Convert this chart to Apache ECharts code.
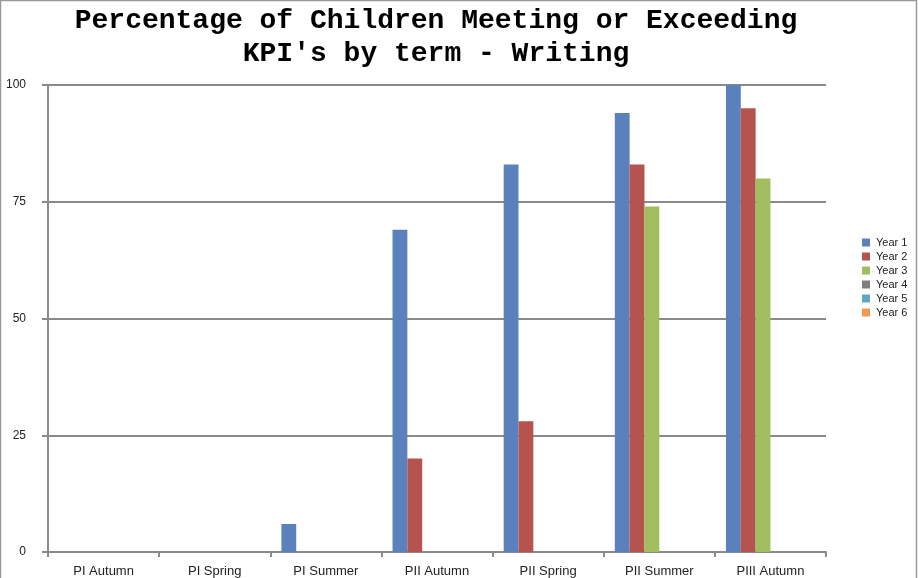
<!DOCTYPE html>
<html>
<head>
<meta charset="utf-8">
<script src="https://cdn.jsdelivr.net/npm/echarts@6/dist/echarts.min.js"></script>
<style>
html,body{margin:0;padding:0;background:#fff;}
#c{width:918px;height:578px;}
</style>
</head>
<body>
<div id="c"></div>
<script>
const categories = ['PI Autumn','PI Spring','PI Summer','PII Autumn','PII Spring','PII Summer','PIII Autumn'];
const seriesNames = ['Year 1','Year 2','Year 3','Year 4','Year 5','Year 6'];
const year1 = [0, 0, 6, 69, 83, 94, 100];
const year2 = [0, 0, 0, 20, 28, 83, 95];
const year3 = [0, 0, 0, 0, 0, 74, 80];
const year4 = [0, 0, 0, 0, 0, 0, 0];
const year5 = [0, 0, 0, 0, 0, 0, 0];
const year6 = [0, 0, 0, 0, 0, 0, 0];
const yTicks = [0, 25, 50, 75, 100];
const colors = ['#5A81BC', '#B5534F', '#A0BE5F', '#7F7F7F', '#5DA8C2', '#F09A51'];

const allData = [year1, year2, year3, year4, year5, year6];
const chart = echarts.init(document.getElementById('c'));
chart.setOption({
  animation: false,
  color: colors,
  title: {
    text: 'Percentage of Children Meeting or Exceeding\nKPI\'s by term - Writing',
    left: 431,
    top: -1,
    textAlign: 'center',
    textStyle: {
      fontFamily: '"Liberation Mono", "Courier New", monospace',
      fontWeight: 'bold',
      fontSize: 28,
      lineHeight: 33,
      color: '#000'
    }
  },
  graphic: [{
    type: 'rect',
    shape: {x: 0.5, y: 0.5, width: 916, height: 590},
    style: {fill: 'none', stroke: '#999', lineWidth: 1.5},
    silent: true
  }],
  legend: {
    orient: 'vertical',
    left: 857,
    top: 232,
    itemWidth: 8,
    itemHeight: 8,
    itemGap: 3,
    icon: 'rect',
    textStyle: {fontFamily: '"Liberation Sans", Arial, sans-serif', fontSize: 11, color: '#222', padding: [0,0,0,1]},
    data: seriesNames
  },
  grid: {left: 48, right: 92, top: 85, bottom: 25, containLabel: false},
  xAxis: {
    type: 'category',
    data: categories,
    axisLine: {lineStyle: {color: '#8a8a8a', width: 2}},
    axisTick: {show: true, length: 5, lineStyle: {color: '#8a8a8a', width: 2}},
    axisLabel: {fontFamily: '"Liberation Sans", Arial, sans-serif', fontSize: 13, color: '#222', margin: 13, interval: 0},
    splitLine: {show: false}
  },
  yAxis: {
    type: 'value',
    min: yTicks[0],
    max: yTicks[yTicks.length - 1],
    interval: 25,
    axisLine: {show: true, lineStyle: {color: '#8a8a8a', width: 2}},
    axisTick: {show: true, length: 6, lineStyle: {color: '#8a8a8a', width: 2}},
    axisLabel: {fontFamily: '"Liberation Sans", Arial, sans-serif', fontSize: 12, color: '#222', margin: 22},
    splitLine: {show: true, lineStyle: {color: '#8a8a8a', width: 2}}
  },
  series: seriesNames.map((n, i) => ({
    name: n,
    type: 'bar',
    data: allData[i],
    barGap: '0%',
    barCategoryGap: '20%',
    itemStyle: {color: colors[i]}
  }))
});
</script>
</body>
</html>
